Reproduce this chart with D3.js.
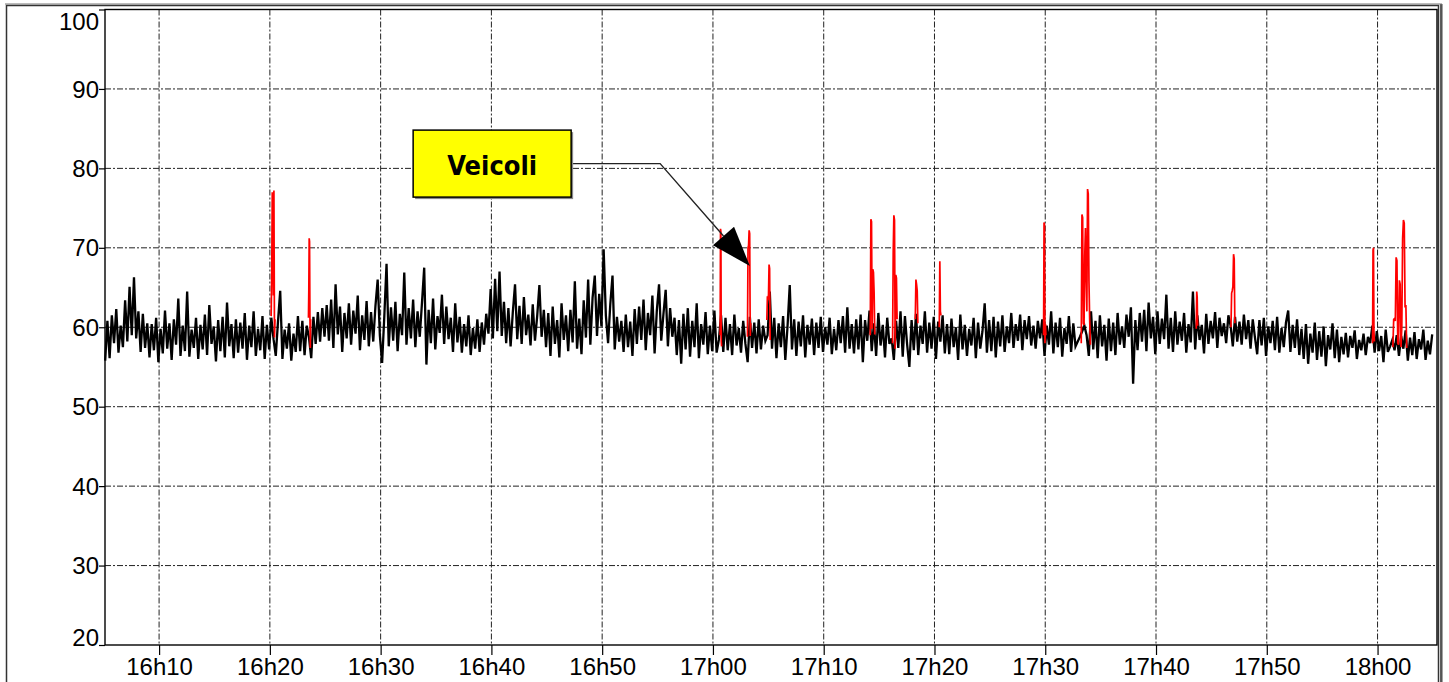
<!DOCTYPE html>
<html>
<head>
<meta charset="utf-8">
<script src="https://cdn.jsdelivr.net/npm/d3@7"></script>
<style>
  body { margin: 0; background: #fff; }
  .axis text { font-family: "Liberation Sans", Arial, sans-serif; font-size: 24px; fill: #000; }
  .axis path { display: none; }
  .axis line { stroke: #000; stroke-width: 1.2; }
  .grid line { stroke: #222; stroke-width: 1; stroke-dasharray: 6,2,2,2; }
</style>
</head>
<body>
<div id="chart"></div>
<script>
// time window shown on the x axis
var domainStart = "16:05:07", domainEnd = "18:05:22";

// background noise level (dB), one value every 12 s from 16:05:08
var noiseStart = "16:05:08", noiseStep = 12;
var noise = [
  55.8, 60.8, 56.1, 61.5, 58.0, 62.3, 56.8, 60.2, 57.5, 63.4, 58.2, 65.1, 59.0, 66.3, 58.6, 62.0, 56.9, 61.7, 57.4, 60.5,
  56.2, 60.4, 57.1, 61.2, 55.6, 59.8, 56.7, 62.1, 57.3, 60.5, 55.9, 61.0, 57.8, 63.6, 56.4, 60.2, 57.0, 64.5, 56.3, 59.7,
  57.4, 61.2, 56.0, 60.3, 57.2, 61.6, 56.5, 62.8, 57.9, 60.1, 55.7, 60.9, 57.0, 61.3, 56.2, 63.1, 57.6, 60.4, 56.1, 61.0,
  56.8, 60.6, 57.3, 61.8, 55.9, 60.2, 57.5, 62.0, 56.4, 59.8, 57.1, 61.4, 56.0, 60.3, 57.2, 61.2, 58.5, 56.4, 60.7, 64.6,
  56.0, 59.7, 57.3, 60.5, 55.8, 59.2, 56.9, 61.4, 57.0, 60.8, 56.5, 60.2, 58.7, 56.1, 61.3, 57.9, 61.9, 58.2, 62.4, 58.8,
  62.8, 58.3, 63.5, 57.4, 65.4, 59.1, 62.6, 56.9, 61.8, 58.6, 63.0, 57.8, 62.1, 59.2, 64.0, 57.1, 61.5, 58.4, 63.3, 57.6,
  61.9, 58.2, 62.7, 66.0, 58.9, 55.5, 61.4, 68.0, 57.6, 62.5, 58.3, 63.2, 57.0, 61.7, 59.0, 66.9, 57.8, 62.4, 58.6, 63.5,
  57.5, 62.0, 58.8, 63.1, 67.5, 55.3, 62.2, 58.0, 63.6, 57.2, 61.4, 59.3, 64.1, 57.9, 62.6, 58.5, 61.2, 56.9, 63.0, 58.1,
  61.3, 56.8, 60.4, 57.6, 61.5, 56.5, 59.9, 57.3, 61.0, 56.9, 60.6, 57.8, 61.7, 59.2, 64.8, 58.6, 66.1, 59.5, 67.0, 58.9,
  63.2, 58.0, 62.4, 57.6, 61.9, 65.4, 58.5, 62.7, 57.9, 63.8, 59.0, 61.6, 57.7, 62.9, 58.3, 61.4, 65.3, 58.8, 62.2, 57.5,
  61.8, 56.4, 62.6, 57.9, 60.9, 56.2, 63.0, 58.4, 61.5, 57.0, 62.2, 58.1, 65.8, 57.3, 61.1, 56.6, 63.4, 58.7, 66.0, 57.8,
  63.7, 66.5, 58.9, 64.2, 60.1, 69.8, 61.5, 58.0, 62.9, 66.5, 57.2, 61.3, 58.2, 60.8, 56.9, 61.6, 57.5, 60.7, 56.4, 62.3,
  57.9, 62.6, 58.4, 63.5, 57.1, 61.8, 59.0, 64.0, 56.7, 62.1, 65.4, 58.3, 61.7, 64.7, 57.6, 62.4, 58.8, 61.2, 56.5, 60.9,
  55.4, 61.7, 57.2, 62.4, 56.3, 60.8, 57.5, 63.0, 56.1, 60.4, 57.8, 61.9, 56.6, 60.2, 57.0, 62.1, 56.8, 58.4, 61.5, 56.9,
  61.2, 57.1, 60.4, 56.5, 61.6, 57.7, 59.9, 56.8, 60.8, 57.9, 55.6, 61.3, 57.4, 60.6, 56.7, 61.0, 57.2, 60.2, 58.3, 59.0,
  64.5, 57.3, 61.2, 56.1, 60.5, 57.5, 61.4, 55.9, 60.1, 65.3, 57.2, 61.0, 56.4, 60.7, 57.6, 61.5, 56.2, 60.3, 57.8, 61.1,
  56.5, 60.6, 57.4, 61.3, 56.9, 60.0, 57.8, 61.2, 56.6, 59.8, 57.1, 60.9, 58.0, 61.4, 56.8, 62.5, 57.3, 60.4, 56.7, 61.0,
  57.2, 61.6, 55.6, 60.9, 58.3, 62.1, 57.0, 60.5, 56.4, 61.8, 57.7, 60.3, 56.2, 61.2, 57.9, 58.6, 55.9, 60.8, 57.4, 62.0,
  56.3, 61.4, 57.8, 55.0, 60.9, 57.1, 61.7, 56.5, 60.2, 57.9, 62.0, 56.8, 60.6, 57.3, 61.3, 56.0, 60.7, 58.2, 61.5, 56.7,
  60.4, 56.6, 61.1, 57.5, 60.0, 55.9, 61.6, 57.2, 60.3, 56.4, 59.8, 57.7, 61.2, 56.1, 60.6, 57.3, 59.5, 63.0, 56.8, 60.9,
  57.0, 61.3, 56.2, 60.7, 57.6, 61.5, 56.9, 60.1, 58.0, 61.8, 57.4, 60.4, 58.3, 61.6, 57.1, 60.9, 58.5, 61.4, 57.7, 60.2,
  57.3, 60.8, 58.6, 61.0, 56.4, 60.2, 57.8, 62.0, 56.7, 60.6, 57.5, 61.2, 56.3, 59.9, 57.9, 61.4, 56.9, 60.5, 57.6, 58.2,
  58.8, 59.5, 60.2, 59.0, 56.4, 62.0, 57.2, 60.8, 56.1, 61.5, 57.6, 60.3, 55.8, 61.1, 57.0, 60.6, 56.5, 61.8, 57.8, 60.1,
  57.4, 61.6, 58.8, 62.5, 52.9, 60.9, 57.1, 61.8, 58.2, 62.2, 57.0, 63.1, 58.6, 61.3, 56.6, 62.0, 57.9, 61.1, 58.5, 64.1,
  57.3, 61.2, 56.9, 62.0, 57.8, 60.7, 58.3, 61.8, 56.8, 60.4, 58.1, 64.5, 57.2, 61.5, 58.4, 60.3, 56.7, 61.7, 57.9, 60.8,
  58.6, 61.9, 57.4, 61.2, 58.9, 60.5, 58.0, 61.5, 60.2, 57.6, 61.3, 58.2, 60.7, 57.8, 61.6, 58.5, 60.9, 57.3, 61.0, 58.7,
  56.6, 60.9, 57.7, 61.2, 56.4, 60.1, 58.0, 60.8, 57.1, 61.3, 56.8, 59.9, 57.5, 60.6, 62.1, 56.9, 60.3, 57.4, 61.0, 56.5,
  59.8, 56.0, 60.4, 55.4, 59.2, 56.8, 60.6, 55.9, 59.5, 56.3, 60.1, 55.1, 59.0, 57.2, 60.5, 56.1, 59.7, 55.6, 58.8, 56.6,
  59.3, 56.2, 58.9, 57.4, 59.6, 56.0, 58.4, 57.1, 59.2, 56.5, 58.8, 58.0, 60.2, 56.8, 59.5, 57.0, 58.9, 55.6, 59.7, 56.9,
  57.6, 58.4, 57.1, 59.0, 56.4, 58.9, 57.3, 59.6, 55.8, 58.7, 56.5, 59.4, 56.0, 58.5, 57.2, 59.7, 55.9, 58.3, 56.6, 59.1
];

// vehicle pass-bys (red): start time, seconds between samples, values
var vehStart = ["16:20:07", "16:23:29", "17:00:39", "17:03:07", "17:04:52", "17:14:12", "17:16:13", "17:18:16",
                "17:20:26", "17:29:51", "17:33:15", "17:43:38", "17:46:46", "17:59:33", "18:01:23"];
var vehStep = [3, 2, 2, 3, 3, 3.5, 3.5, 3.5, 3, 2.5, 3.8, 2.5, 3.5, 2.5, 4.4];
var vehValues = [
  [61.4, 66.5, 77.0, 76.8, 64.0, 77.2, 58.7, 61.0],
  [61.2, 64.7, 71.2, 70.8, 61.6, 57.4, 61.0],
  [59.0, 72.4, 72.0, 58.2, 57.6],
  [58.8, 70.0, 70.3, 72.2, 71.8, 58.9, 60.5],
  [60.9, 63.9, 63.4, 64.1, 67.9, 67.4, 58.4],
  [59.0, 73.6, 73.3, 59.8, 67.3, 66.9, 64.4, 59.1],
  [58.0, 69.4, 74.1, 73.5, 57.3, 66.6, 66.2, 61.0],
  [61.0, 66.0, 65.4, 64.6, 60.5],
  [60.0, 68.3, 62.0, 61.5],
  [59.0, 73.2, 72.9, 58.0, 60.4, 59.0],
  [58.0, 74.2, 73.8, 60.5, 60.3, 69.0, 72.5, 66.0, 62.0, 77.4, 76.8, 65.8, 61.0, 57.8],
  [59.8, 64.5, 63.8, 60.2],
  [60.0, 64.3, 64.6, 65.1, 69.2, 68.6, 60.5],
  [58.0, 69.7, 70.0, 59.5, 58.2],
  [57.5, 61.0, 61.1, 60.8, 68.8, 68.4, 58.0, 57.8, 65.9, 65.4, 57.5, 60.0, 71.2, 73.5, 73.1, 62.5, 62.8, 57.4]
];

var yTicks = [20, 30, 40, 50, 60, 70, 80, 90, 100];

// callout: box centre, elbow and arrow tip in chart units
var noteText = "Veicoli";
var noteBox = {time: "16:40:04", value: 80.6};
var noteElbow = {time: "16:55:14", value: 80.6};
var noteTip = {time: "17:03:20", value: 67.7};

var W = 1449, H = 682;
var pl = 105, pr = 1437, pt = 9.5, pb = 645;

var parse = d3.timeParse("%H:%M:%S");
var t0 = parse(noiseStart);

var x = d3.scaleTime().domain([parse(domainStart), parse(domainEnd)]).range([pl, pr]);
var y = d3.scaleLinear().domain([20, 100]).range([pb, pt]);

var svg = d3.select("#chart").append("svg")
    .attr("width", W)
    .attr("height", H);

svg.append("rect").attr("width", W).attr("height", H).attr("fill", "#fff");

// outer frame
svg.append("path")
    .attr("d", "M6.5," + H + "V5.5H1438.5V" + H)
    .attr("fill", "none").attr("stroke", "#333").attr("stroke-width", 1.5);
svg.append("line")
    .attr("x1", 1441.3).attr("x2", 1441.3).attr("y1", 4).attr("y2", H)
    .attr("stroke", "#555").attr("stroke-width", 2.5);
svg.append("line")
    .attr("x1", 5).attr("x2", 1442).attr("y1", 4).attr("y2", 4)
    .attr("stroke", "#777").attr("stroke-width", 1);

// grid
var xTickVals = x.ticks(d3.timeMinute.every(10));
svg.append("g").attr("class", "grid")
  .selectAll("line").data(xTickVals).enter().append("line")
    .attr("x1", d => x(d)).attr("x2", d => x(d))
    .attr("y1", pt).attr("y2", pb);
svg.append("g").attr("class", "grid")
  .selectAll("line").data(yTicks.slice(1, -1)).enter().append("line")
    .attr("x1", pl).attr("x2", pr)
    .attr("y1", d => y(d)).attr("y2", d => y(d));

// axes
var xAxis = svg.append("g").attr("class", "axis")
    .attr("transform", "translate(0," + pb + ")")
    .call(d3.axisBottom(x).tickValues(xTickVals).tickFormat(d3.timeFormat("%Hh%M")).tickSize(10).tickPadding(3));

var yAxis = svg.append("g").attr("class", "axis")
    .attr("transform", "translate(" + pl + ",0)")
    .call(d3.axisLeft(y).tickValues(yTicks).tickSize(6).tickPadding(0));
yAxis.selectAll("text")
    .attr("dy", d => d === 100 ? "0.85em" : d === 20 ? "0em" : "0.34em");

// noise line
var line = d3.line()
    .x(d => x(d.t))
    .y(d => y(d.v));

var noisePts = noise.map((v, i) => ({t: new Date(+t0 + i * noiseStep * 1000), v: v}));
svg.append("path")
    .datum(noisePts)
    .attr("fill", "none")
    .attr("stroke", "#000")
    .attr("stroke-width", 2.3)
    .attr("d", line);

// vehicle events
vehValues.forEach(function(vals, k) {
  var s = parse(vehStart[k]);
  var pts = vals.map((v, i) => ({t: new Date(+s + i * vehStep[k] * 1000), v: v}));
  svg.append("path")
      .datum(pts)
      .attr("fill", "none")
      .attr("stroke", "#ff0000")
      .attr("stroke-width", 1.7)
      .attr("d", line);
});

// plot border
svg.append("rect")
    .attr("x", pl).attr("y", pt)
    .attr("width", pr - pl).attr("height", pb - pt)
    .attr("fill", "none").attr("stroke", "#000").attr("stroke-width", 1.4);

// callout
var bx = x(parse(noteBox.time)), by = y(noteBox.value);
var ex = x(parse(noteElbow.time)), ey = y(noteElbow.value);
var tx = x(parse(noteTip.time)), ty = y(noteTip.value);
var boxW = 158, boxH = 67;

// arrow head
var ang = Math.atan2(ty - ey, tx - ex), hl = 40, hw = 14;
var baseX = tx - hl * Math.cos(ang), baseY = ty - hl * Math.sin(ang);
svg.append("path")
    .attr("d", "M" + (bx + boxW / 2) + "," + ey + "H" + ex + "L" + baseX + "," + baseY)
    .attr("fill", "none").attr("stroke", "#222").attr("stroke-width", 1.4);
svg.append("polygon")
    .attr("points", [
      [tx, ty],
      [baseX + hw * Math.sin(ang), baseY - hw * Math.cos(ang)],
      [baseX - hw * Math.sin(ang), baseY + hw * Math.cos(ang)]
    ].map(p => p.join(",")).join(" "))
    .attr("fill", "#000");

svg.append("rect")
    .attr("x", bx - boxW / 2 + 2).attr("y", by - boxH / 2 + 2)
    .attr("width", boxW).attr("height", boxH)
    .attr("fill", "#888");
svg.append("rect")
    .attr("x", bx - boxW / 2).attr("y", by - boxH / 2)
    .attr("width", boxW).attr("height", boxH)
    .attr("fill", "#ffff00").attr("stroke", "#000").attr("stroke-width", 1.5);
svg.append("text")
    .attr("x", bx).attr("y", by + 11)
    .attr("text-anchor", "middle")
    .attr("font-family", "'DejaVu Sans', sans-serif")
    .attr("font-weight", "bold")
    .attr("font-size", 26)
    .attr("textLength", 90)
    .attr("lengthAdjust", "spacingAndGlyphs")
    .text(noteText);
</script>
</body>
</html>
